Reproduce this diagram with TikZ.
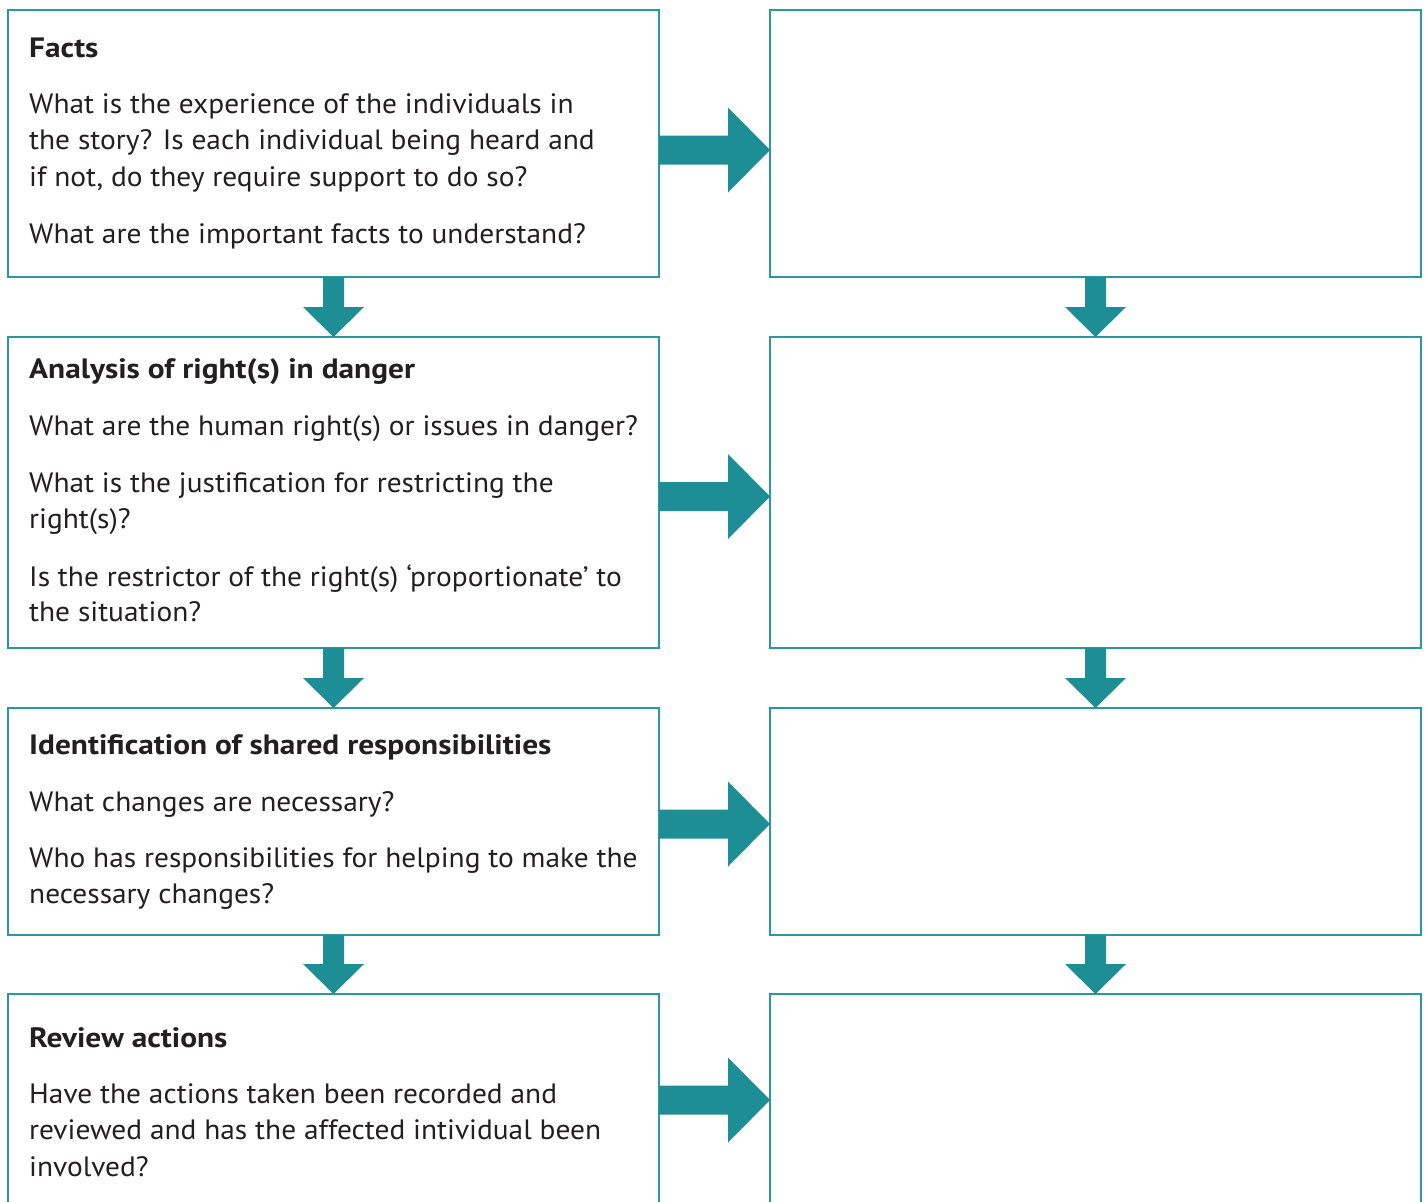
\documentclass[tikz,border=0pt]{standalone}
\usepackage{fontspec}
\setmainfont{PT Sans}[FakeStretch=1.05]
\newfontfamily\headfont{PT Sans}[FakeStretch=1.12]
\usetikzlibrary{calc}

\definecolor{boxline}{RGB}{42,152,160}
\definecolor{arrowteal}{RGB}{30,142,150}
\definecolor{ink}{RGB}{35,31,32}

% block arrow pointing right: #1 = tail point, #2 = tip point
\newcommand\flowright[2]{%
  \fill[arrowteal] ($(#1)+(0,-14.5)$) -- ($(#2)+(-42,-14.5)$) -- ($(#2)+(-42,-42.5)$)
    -- (#2) -- ($(#2)+(-42,42.5)$) -- ($(#2)+(-42,14.5)$) -- ($(#1)+(0,14.5)$) -- cycle;}
% block arrow pointing down: #1 = tail point, #2 = tip point
\newcommand\flowdown[2]{%
  \fill[arrowteal] ($(#1)+(-10.5,0)$) -- ($(#2)+(-10.5,-30)$) -- ($(#2)+(-30.5,-30)$)
    -- (#2) -- ($(#2)+(30.5,-30)$) -- ($(#2)+(10.5,-30)$) -- ($(#1)+(10.5,0)$) -- cycle;}

\begin{document}
\begin{tikzpicture}[x=1pt,y=-1pt,
  panel/.style={draw=boxline, line width=2pt, minimum width=651pt,
    outer sep=0pt, inner sep=0pt},
  head/.style={anchor=base west, inner sep=0pt, text=ink,
    font=\fontsize{28}{36}\selectfont\headfont\bfseries},
  body/.style={anchor=base west, inner sep=0pt, text=ink,
    font=\fontsize{28}{36}\selectfont}]
\clip (0,0) rectangle (1427,1202);
\fill[white] (0,0) rectangle (1427,1202);

% left column: question panels
\node[panel, minimum height=267pt] (L1) at (333.5,143.5) {};
\node[panel, minimum height=311pt] (L2) at (333.5,492.5) {};
\node[panel, minimum height=227pt] (L3) at (333.5,821.5) {};
\node[panel, minimum height=226pt] (L4) at (333.5,1107) {};

% right column: empty answer panels
\node[panel, minimum height=267pt] (R1) at (1095.5,143.5) {};
\node[panel, minimum height=311pt] (R2) at (1095.5,492.5) {};
\node[panel, minimum height=227pt] (R3) at (1095.5,821.5) {};
\node[panel, minimum height=226pt] (R4) at (1095.5,1107) {};

% texts of the question panels
\node[head] (h1) at (29,57) {Facts};
\node[body] (b11) at (29,113) {What is the experience of the individuals in};
\node[body] (b12) at (29,149.5) {the story? Is each individual being heard and};
\node[body] (b13) at (29,186) {if not, do they require support to do so?};
\node[body] (b14) at (29,243) {What are the important facts to understand?};

\node[head] (h2) at (29,378) {Analysis of right(s) in danger};
\node[body] (b21) at (29,435) {What are the human right(s) or issues in danger?};
\node[body] (b22) at (29,492) {What is the justification for restricting the};
\node[body] (b23) at (29,528) {right(s)?};
\node[body] (b24) at (29,586) {Is the restrictor of the right(s) ‘proportionate’ to};
\node[body] (b25) at (29,621) {the situation?};

\node[head] (h3) at (29,754) {Identification of shared responsibilities};
\node[body] (b31) at (29,811) {What changes are necessary?};
\node[body] (b32) at (29,867) {Who has responsibilities for helping to make the};
\node[body] (b33) at (29,903) {necessary changes?};

\node[head] (h4) at (29,1047) {Review actions};
\node[body] (b41) at (29,1103) {Have the actions taken been recorded and};
\node[body] (b42) at (29,1139.5) {reviewed and has the affected intividual been};
\node[body] (b43) at (29,1176) {involved?};

% heights of the horizontal arrows
\coordinate (a1) at (0,150);
\coordinate (a2) at (0,496.5);
\coordinate (a3) at (0,824);
\coordinate (a4) at (0,1100);

% arrows from question panels to answer panels
\flowright{L1.east |- a1}{R1.west |- a1}
\flowright{L2.east |- a2}{R2.west |- a2}
\flowright{L3.east |- a3}{R3.west |- a3}
\flowright{L4.east |- a4}{R4.west |- a4}

% arrows down each column
\flowdown{L1.south}{L2.north}
\flowdown{L2.south}{L3.north}
\flowdown{L3.south}{L4.north}
\flowdown{R1.south}{R2.north}
\flowdown{R2.south}{R3.north}
\flowdown{R3.south}{R4.north}
\end{tikzpicture}
\end{document}
